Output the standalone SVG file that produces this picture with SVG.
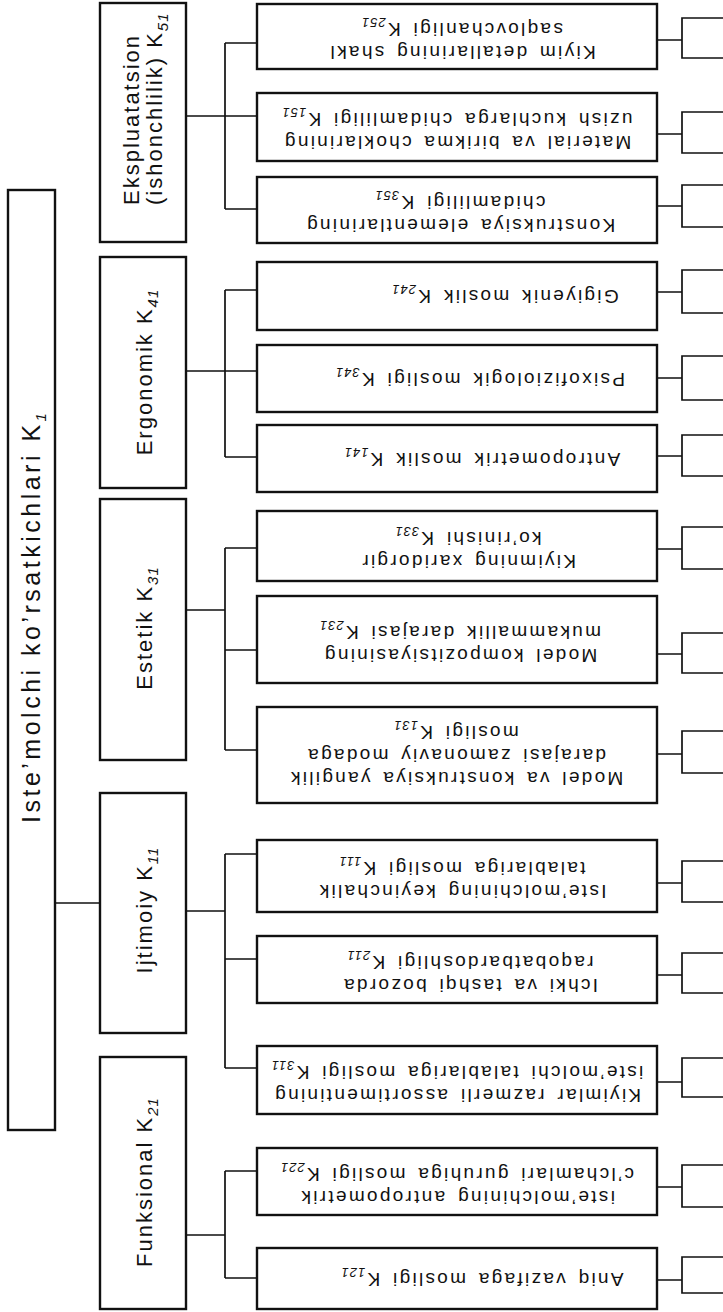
<svg xmlns="http://www.w3.org/2000/svg" width="723" height="1312" viewBox="0 0 723 1312">
<style>
.box{fill:#fff;stroke:#111;stroke-width:2.4}
.ln{fill:none;stroke:#111;stroke-width:1.7}
text{font-family:"Liberation Sans",Arial,sans-serif;fill:#111}
.lf{font-size:19px;letter-spacing:2.3px;word-spacing:3px;text-anchor:middle}
.l2{font-size:22px;letter-spacing:2px}
.rt{font-size:25px;letter-spacing:3.5px}
.sb{font-size:13px;font-style:italic;letter-spacing:1px}
.sb2{font-size:15px;font-style:italic;letter-spacing:1px}
</style>
<rect width="723" height="1312" fill="#fff"/>
<g id="connectors">
<path class="ln" d="M55 903H100"/>
<path class="ln" d="M186 116H257M225 43V209M225 43H257M225 209H257"/>
<path class="ln" d="M186 371H257M225 290V457M225 290H257M225 457H257"/>
<path class="ln" d="M186 610H225M225 548V750M225 548H257M225 650H257M225 750H257"/>
<path class="ln" d="M186 911H225M225 854V1068M225 854H257M225 959H257M225 1068H257"/>
<path class="ln" d="M186 1235H225M225 1171V1278M225 1171H257M225 1278H257"/>
<path class="ln" d="M657 40H682M723 18H682V58H723"/>
<path class="ln" d="M657 134H682M723 112H682V153H723"/>
<path class="ln" d="M657 206H682M723 185H682V227H723"/>
<path class="ln" d="M657 292H682M723 270H682V313H723"/>
<path class="ln" d="M657 378H682M723 356H682V400H723"/>
<path class="ln" d="M657 456H682M723 435H682V476H723"/>
<path class="ln" d="M657 549H682M723 527H682V569H723"/>
<path class="ln" d="M657 654H682M723 633H682V673H723"/>
<path class="ln" d="M657 754H682M723 731H682V773H723"/>
<path class="ln" d="M657 883H682M723 861H682V902H723"/>
<path class="ln" d="M657 975H682M723 953H682V993H723"/>
<path class="ln" d="M657 1082H682M723 1058H682V1097H723"/>
<path class="ln" d="M657 1187H682M723 1165H682V1207H723"/>
<path class="ln" d="M657 1280H682M723 1257H682V1293H723"/>
</g>
<g id="root">
<rect class="box" x="8" y="190" width="47" height="940"/>
<text class="rt" transform="translate(0 823) rotate(-90)" x="0" y="40">Iste’molchi ko’rsatkichlari K<tspan class="sb2" dy="6">1</tspan></text>
</g>
<g id="k51">
<rect class="box" x="100" y="3" width="86" height="239"/>
<text class="l2" transform="translate(0 205) rotate(-90)"><tspan x="0" y="139">Ekspluatatsion</tspan><tspan x="0" y="162">(ishonchlilik) K<tspan class="sb2" dy="6">51</tspan></tspan></text>
</g>
<g id="k41">
<rect class="box" x="100" y="257" width="86" height="231"/>
<text class="l2" text-anchor="middle" transform="translate(152 372) rotate(-90)">Ergonomik K<tspan class="sb2" dy="6">41</tspan></text>
</g>
<g id="k31">
<rect class="box" x="100" y="499" width="86" height="261"/>
<text class="l2" text-anchor="middle" transform="translate(152 628) rotate(-90)">Estetik K<tspan class="sb2" dy="6">31</tspan></text>
</g>
<g id="k11">
<rect class="box" x="100" y="793" width="86" height="240"/>
<text class="l2" text-anchor="middle" transform="translate(152 910) rotate(-90)">Ijtimoiy K<tspan class="sb2" dy="6">11</tspan></text>
</g>
<g id="k21">
<rect class="box" x="100" y="1057" width="86" height="252"/>
<text class="l2" text-anchor="middle" transform="translate(152 1182) rotate(-90)">Funksional K<tspan class="sb2" dy="6">21</tspan></text>
</g>
<g id="k251">
<rect class="box" x="257" y="4" width="400" height="65"/>
<text class="lf" transform="translate(462 36.5) rotate(180)"><tspan x="0" y="-9">Kiyim detallarining shakl</tspan><tspan x="0" y="14">saqlovchanligi K<tspan class="sb" dy="5">251</tspan></tspan></text>
</g>
<g id="k151">
<rect class="box" x="257" y="93" width="400" height="68"/>
<text class="lf" transform="translate(457 127) rotate(180)"><tspan x="0" y="-9">Material va birikma choklarining</tspan><tspan x="0" y="14">uzish kuchlarga chidamliligi K<tspan class="sb" dy="5">151</tspan></tspan></text>
</g>
<g id="k351">
<rect class="box" x="257" y="177" width="400" height="66"/>
<text class="lf" transform="translate(460 210) rotate(180)"><tspan x="0" y="-9">Konstruksiya elementlarining</tspan><tspan x="0" y="14">chidamliligi K<tspan class="sb" dy="5">351</tspan></tspan></text>
</g>
<g id="k241">
<rect class="box" x="257" y="262" width="400" height="68"/>
<text class="lf" transform="translate(505 296) rotate(180)" x="0" y="6">Gigiyenik moslik K<tspan class="sb" dy="5">241</tspan></text>
</g>
<g id="k341">
<rect class="box" x="257" y="345" width="400" height="67"/>
<text class="lf" transform="translate(480 378.5) rotate(180)" x="0" y="6">Psixofiziologik mosligi K<tspan class="sb" dy="5">341</tspan></text>
</g>
<g id="k141">
<rect class="box" x="257" y="425" width="400" height="67"/>
<text class="lf" transform="translate(482 458.5) rotate(180)" x="0" y="6">Antropometrik moslik K<tspan class="sb" dy="5">141</tspan></text>
</g>
<g id="k331">
<rect class="box" x="257" y="511" width="400" height="70"/>
<text class="lf" transform="translate(468 546) rotate(180)"><tspan x="0" y="-9">Kiyimning xaridorgir</tspan><tspan x="0" y="14">ko’rinishi K<tspan class="sb" dy="5">331</tspan></tspan></text>
</g>
<g id="k231">
<rect class="box" x="257" y="596" width="400" height="87"/>
<text class="lf" transform="translate(460 639.5) rotate(180)"><tspan x="0" y="-9">Model kompozitsiyasining</tspan><tspan x="0" y="14">mukammallik darajasi K<tspan class="sb" dy="5">231</tspan></tspan></text>
</g>
<g id="k131">
<rect class="box" x="257" y="707" width="400" height="96"/>
<text class="lf" transform="translate(456 755) rotate(180)"><tspan x="0" y="-17">Model va konstruksiya yangilik</tspan><tspan x="0" y="6">darajasi zamonaviy modaga</tspan><tspan x="0" y="29">mosligi K<tspan class="sb" dy="5">131</tspan></tspan></text>
</g>
<g id="k111">
<rect class="box" x="257" y="840" width="400" height="72"/>
<text class="lf" transform="translate(462 876) rotate(180)"><tspan x="0" y="-9">Iste’molchining  keyinchalik</tspan><tspan x="0" y="14">talablariga mosligi K<tspan class="sb" dy="5">111</tspan></tspan></text>
</g>
<g id="k211">
<rect class="box" x="257" y="936" width="400" height="67"/>
<text class="lf" transform="translate(470 969.5) rotate(180)"><tspan x="0" y="-9">Ichki va tashqi bozorda</tspan><tspan x="0" y="14">raqobatbardoshligi K<tspan class="sb" dy="5">211</tspan></tspan></text>
</g>
<g id="k311">
<rect class="box" x="257" y="1046" width="400" height="68"/>
<text class="lf" transform="translate(457 1080) rotate(180)"><tspan x="0" y="-9">Kiyimlar razmerli assortimentining</tspan><tspan x="0" y="14">iste’molchi talablariga mosligi K<tspan class="sb" dy="5">311</tspan></tspan></text>
</g>
<g id="k221">
<rect class="box" x="257" y="1148" width="400" height="67"/>
<text class="lf" transform="translate(457 1181.5) rotate(180)"><tspan x="0" y="-9">iste’molchining antropometrik</tspan><tspan x="0" y="14">c’lchamlari guruhiga mosligi K<tspan class="sb" dy="5">221</tspan></tspan></text>
</g>
<g id="k121">
<rect class="box" x="257" y="1248" width="400" height="61"/>
<text class="lf" transform="translate(482 1278.5) rotate(180)" x="0" y="6">Aniq vazifaga mosligi K<tspan class="sb" dy="5">121</tspan></text>
</g>
</svg>
